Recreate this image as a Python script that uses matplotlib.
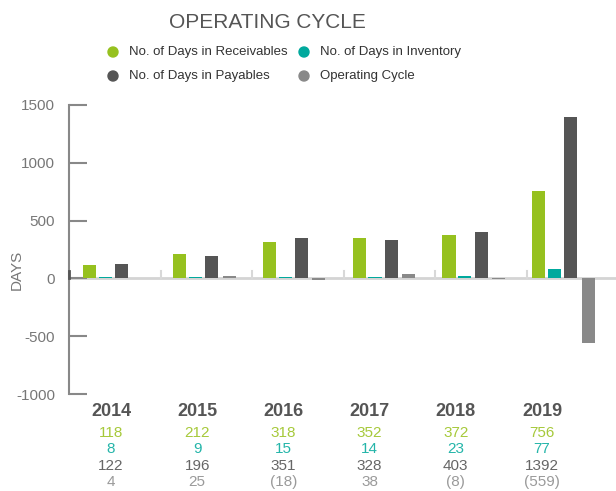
import numpy as np
import matplotlib
matplotlib.use("Agg")
import matplotlib.pyplot as plt
import matplotlib.transforms as mtransforms
from matplotlib.patches import Ellipse

plt.rcParams['font.family'] = ['Liberation Sans', 'DejaVu Sans']

# ---------- data ----------
years = ["2014", "2015", "2016", "2017", "2018", "2019"]
receivables = [118, 212, 318, 352, 372, 756]
inventory = [8, 9, 15, 14, 23, 77]
payables = [122, 196, 351, 328, 403, 1392]
op_cycle = [4, 25, -18, 38, -8, -559]
row_labels = [
    ["118", "212", "318", "352", "372", "756"],
    ["8", "9", "15", "14", "23", "77"],
    ["122", "196", "351", "328", "403", "1392"],
    ["4", "25", "(18)", "38", "(8)", "(559)"],
]
series_names = ["No. of Days in Receivables", "No. of Days in Inventory",
                "No. of Days in Payables", "Operating Cycle"]
yticks = [-1000, -500, 0, 500, 1000, 1500]

# ---------- style ----------
colors = ["#96c11f", "#00a99d", "#555555", "#898989"]
text_colors = ["#a6c93a", "#24b5a9", "#666666", "#9a9a9a"]
offsets = [-0.276, -0.100, 0.081, 0.276]
bw = 0.145

W, H = 616, 491
fig = plt.figure(figsize=(W / 100, H / 100), dpi=100)
ax = fig.add_axes([69 / W, (H - 394) / H, 547 / W, 289 / H])

x = np.arange(len(years))
for vals, c, off in zip([receivables, inventory, payables, op_cycle], colors, offsets):
    ax.bar(x + off, vals, width=bw, color=c, align="center", zorder=2, linewidth=0)

ax.set_xlim(-0.508, 5.584)
ax.set_ylim(-1000, 1500)
ax.set_yticks(yticks)
ax.set_yticklabels([str(v) for v in yticks], color="#777777", fontsize=11)
ax.tick_params(axis="y", direction="in", length=13, width=1.5, color="#888888", pad=10)
ax.set_xticks([])
for s in ["top", "right", "bottom"]:
    ax.spines[s].set_visible(False)
ax.spines["left"].set_color("#888888")
ax.spines["left"].set_linewidth(1.5)

# zero line + group separators
ax.axhline(0, color="#d4d4d4", lw=2, zorder=1)
for k in range(5):
    sx = 0.513 + 1.02 * k
    ax.plot([sx, sx], [0, 60], color="#d8d8d8", lw=1.5, zorder=1)
# small dark mark on the spine just above zero
ax.plot([-0.508, -0.508], [0, 60], color="#555555", lw=2, zorder=3, clip_on=False)

fig.text(17 / W, 1 - 270 / H, "DAYS", rotation=90, ha="center", va="center",
         color="#777777", fontsize=11)

# title + legend
fig.text(267 / W, 1 - 23 / H, "OPERATING CYCLE", ha="center", va="center",
         fontsize=15, color="#555555")
leg_pos = [(113, 52), (304, 52), (113, 76), (304, 76)]
for (px, py), c, name in zip(leg_pos, colors, series_names):
    fig.patches.append(Ellipse((px / W, 1 - py / H), 10 / W, 10 / H,
                               transform=fig.transFigure, color=c))
    fig.text((px + 16) / W, 1 - py / H, name, ha="left", va="center",
             fontsize=9.5, color="#333333")

# table below the chart
trans = mtransforms.blended_transform_factory(ax.transData, fig.transFigure)
lab_x = [-0.04 + i * 0.96 for i in range(len(years))]
for xi, yr in zip(lab_x, years):
    fig.text(xi, 1 - 411 / H, yr, transform=trans, ha="center", va="center",
             fontsize=13, fontweight="bold", color="#555555")
row_y = [433, 449, 466, 482]
for labels, ry, c in zip(row_labels, row_y, text_colors):
    for xi, t in zip(lab_x, labels):
        fig.text(xi, 1 - ry / H, t, transform=trans, ha="center", va="center",
                 fontsize=11, color=c)

fig.savefig("out.png", dpi=100)
